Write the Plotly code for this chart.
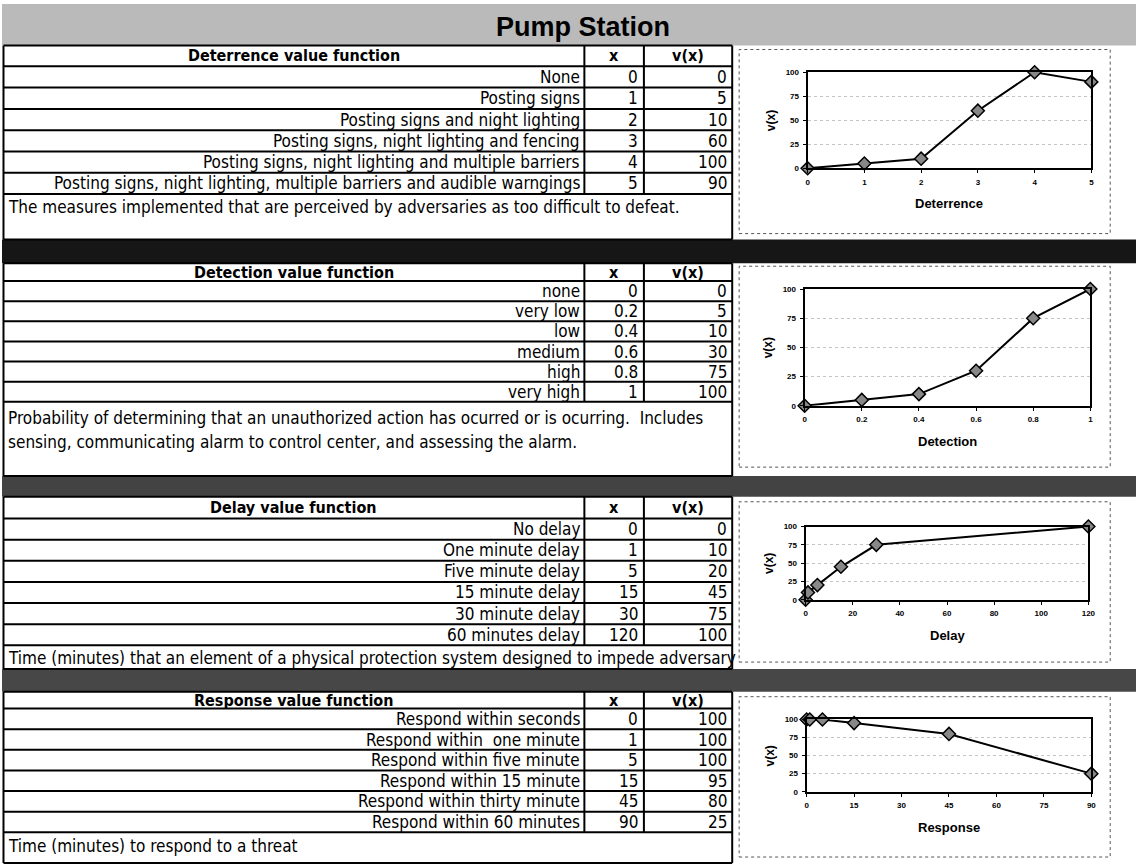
import plotly.graph_objects as go

# ---------------- data ----------------
page_title = "Pump Station"

deter_header = "Deterrence value function"
deter_labels = ["None", "Posting signs", "Posting signs and night lighting",
                "Posting signs, night lighting and fencing",
                "Posting signs, night lighting and multiple barriers",
                "Posting signs, night lighting, multiple barriers and audible warngings"]
deter_x = [0, 1, 2, 3, 4, 5]
deter_v = [0, 5, 10, 60, 100, 90]
deter_desc = ["The measures implemented that are perceived by adversaries as too difficult to defeat."]
deter_axis = "Deterrence"
deter_xticks = [0, 1, 2, 3, 4, 5]

detect_header = "Detection value function"
detect_labels = ["none", "very low", "low", "medium", "high", "very high"]
detect_x = [0, 0.2, 0.4, 0.6, 0.8, 1]
detect_v = [0, 5, 10, 30, 75, 100]
detect_desc = ["Probability of determining that an unauthorized action has ocurred or is ocurring.  Includes",
               "sensing, communicating alarm to control center, and assessing the alarm."]
detect_axis = "Detection"
detect_xticks = [0, 0.2, 0.4, 0.6, 0.8, 1]

delay_header = "Delay value function"
delay_labels = ["No delay", "One minute delay", "Five minute delay", "15 minute delay",
                "30 minute delay", "60 minutes delay"]
delay_x = [0, 1, 5, 15, 30, 120]
delay_v = [0, 10, 20, 45, 75, 100]
delay_desc = ["Time (minutes) that an element of a physical protection system designed to impede adversary"]
delay_axis = "Delay"
delay_xticks = [0, 20, 40, 60, 80, 100, 120]

resp_header = "Response value function"
resp_labels = ["Respond within seconds", "Respond within  one minute", "Respond within five minute",
               "Respond within 15 minute", "Respond within thirty minute", "Respond within 60 minutes"]
resp_x = [0, 1, 5, 15, 45, 90]
resp_v = [100, 100, 100, 95, 80, 25]
resp_desc = ["Time (minutes) to respond to a threat"]
resp_axis = "Response"
resp_xticks = [0, 15, 30, 45, 60, 75, 90]

col_x_title = "x"
col_v_title = "v(x)"
y_axis_title = "v(x)"
y_ticks = [0, 25, 50, 75, 100]

# ---------------- page geometry (pixels) ----------------
W, H = 1143, 865
TL, C1, C2, TR = 1.5, 587, 647, 736          # table column edges

sections = [
    dict(header=deter_header, labels=deter_labels, x=deter_x, v=deter_v, desc=deter_desc,
         axis=deter_axis, xticks=deter_xticks,
         head=(42, 63), rows=(63, 192), desc_box=(192, 238), desc_y=[205],
         band=(238, 262), band_col="#161616", box=(46, 232), frame=(812, 1098, 69, 166)),
    dict(header=detect_header, labels=detect_labels, x=detect_x, v=detect_v, desc=detect_desc,
         axis=detect_axis, xticks=detect_xticks,
         head=(262, 280), rows=(280, 402), desc_box=(402, 477), desc_y=[418, 443],
         band=(477, 498), band_col="#434343", box=(265, 468), frame=(809, 1097, 288, 406)),
    dict(header=delay_header, labels=delay_labels, x=delay_x, v=delay_v, desc=delay_desc,
         axis=delay_axis, xticks=delay_xticks,
         head=(498, 520), rows=(520, 648), desc_box=(648, 672), desc_y=[661],
         band=(672, 695), band_col="#474747", box=(503, 665), frame=(810, 1095, 528, 602)),
    dict(header=resp_header, labels=resp_labels, x=resp_x, v=resp_v, desc=resp_desc,
         axis=resp_axis, xticks=resp_xticks,
         head=(695, 712), rows=(712, 837), desc_box=(837, 868), desc_y=[851],
         band=None, band_col=None, box=(700, 862), frame=(811, 1098, 723, 796)),
]

NARROW = "Liberation Sans Narrow, Arial Narrow, DejaVu Sans Condensed, Liberation Sans, Arial, sans-serif"
SANS = "Liberation Sans, Arial, Helvetica, sans-serif"
INK = "#000000"


def fx(px):
    return px / W


def fy(py):
    return 1 - py / H


shapes = []
annotations = []


def rect(x0, y0, x1, y1, fill, line=None, width=0, dash=None):
    d = dict(type="rect", xref="paper", yref="paper",
             x0=fx(x0), x1=fx(x1), y0=fy(y1), y1=fy(y0),
             fillcolor=fill, layer="below",
             line=dict(color=line or "rgba(0,0,0,0)", width=width))
    if dash:
        d["line"]["dash"] = dash
    shapes.append(d)


def hline(y, x0, x1, w=2):
    shapes.append(dict(type="line", xref="paper", yref="paper",
                       x0=fx(x0), x1=fx(x1), y0=fy(y), y1=fy(y),
                       line=dict(color=INK, width=w)))


def vline(x, y0, y1, w=2):
    shapes.append(dict(type="line", xref="paper", yref="paper",
                       x0=fx(x), x1=fx(x), y0=fy(y0), y1=fy(y1),
                       line=dict(color=INK, width=w)))


def text(s, x, y, anchor="center", size=17, bold=False, family=NARROW, angle=0):
    annotations.append(dict(text=s, xref="paper", yref="paper", x=fx(x), y=fy(y),
                            xanchor=anchor, yanchor="middle", showarrow=False,
                            textangle=angle,
                            font=dict(family=family, size=size, color=INK,
                                      weight="bold" if bold else "normal")))


def fmt(n):
    return ("%g" % n)


# title band
rect(0, 0, W, 42, "#bababa")
text(page_title, 586, 23, size=27, bold=True, family=SANS)

fig = go.Figure()

for i, s in enumerate(sections):
    h0, h1 = s["head"]
    r0, r1 = s["rows"]
    d0, d1 = s["desc_box"]
    n = len(s["labels"])
    rh = (r1 - r0) / n

    # table grid
    rect(TL, h0, TR, d1, "white")
    hline(h0, TL, TR)
    hline(h1, TL, TR)
    for k in range(1, n + 1):
        hline(r0 + k * rh, TL, TR)
    hline(d1, TL, TR)
    vline(TL, h0, d1)
    vline(TR, h0, d1)
    vline(C1, h0, r1)
    vline(C2, h0, r1)

    # header row
    hy = (h0 + h1) / 2
    text(s["header"], (TL + C1) / 2, hy, size=16, bold=True)
    text(col_x_title, (C1 + C2) / 2, hy, size=16, bold=True)
    text(col_v_title, (C2 + TR) / 2, hy, size=16, bold=True)

    # body rows
    for k in range(n):
        cy = r0 + (k + 0.5) * rh
        text(s["labels"][k], C1 - 2, cy, anchor="right")
        text(fmt(s["x"][k]), C2 - 4, cy, anchor="right")
        text(fmt(s["v"][k]), TR - 3, cy, anchor="right")

    # description
    for line, ly in zip(s["desc"], s["desc_y"]):
        text(line, TL + 3, ly, anchor="left")

    # separator band
    if s["band"]:
        rect(0, s["band"][0], W, s["band"][1], s["band_col"])

    # chart panel
    b0, b1 = s["box"]
    rect(743, b0, 1117, b1, "white", line="#555555", width=1, dash="dot")

    fl, fr, ft, fb = s["frame"]
    ax = "" if i == 0 else str(i + 1)
    fig.add_trace(go.Scatter(
        x=s["x"], y=s["v"], mode="lines+markers", cliponaxis=False,
        xaxis="x" + ax, yaxis="y" + ax, showlegend=False,
        line=dict(color=INK, width=2),
        marker=dict(symbol="diamond", size=10, color="#888888",
                    line=dict(color=INK, width=1.5)),
    ))
    xt = s["xticks"]
    common = dict(showline=True, mirror=True, linecolor=INK, linewidth=2,
                  ticks="outside", ticklen=3, tickcolor=INK, zeroline=False,
                  tickfont=dict(family=SANS, size=8, color=INK, weight="bold"))
    fig.update_layout(**{
        "xaxis" + ax: dict(domain=[fx(fl), fx(fr)], range=[xt[0], xt[-1]],
                           tickvals=xt, ticktext=[fmt(t) for t in xt],
                           showgrid=False, anchor="y" + ax, ticklabelstandoff=2, **common),
        "yaxis" + ax: dict(domain=[fy(fb), fy(ft)], range=[y_ticks[0], y_ticks[-1]],
                           tickvals=y_ticks, showgrid=True, gridcolor="#c4c4c4",
                           griddash="dot", gridwidth=1, anchor="x" + ax,
                           ticklabelstandoff=2, **common),
    })
    text(s["axis"], (fl + fr) / 2, fb + 36, size=13, bold=True, family=SANS)
    text(y_axis_title, fl - 37, (ft + fb) / 2, size=12, bold=True, family=SANS, angle=-90)

fig.update_layout(width=W, height=H, margin=dict(l=0, r=0, t=0, b=0),
                  paper_bgcolor="white", plot_bgcolor="white",
                  shapes=shapes, annotations=annotations)

fig.write_html("out.html")
